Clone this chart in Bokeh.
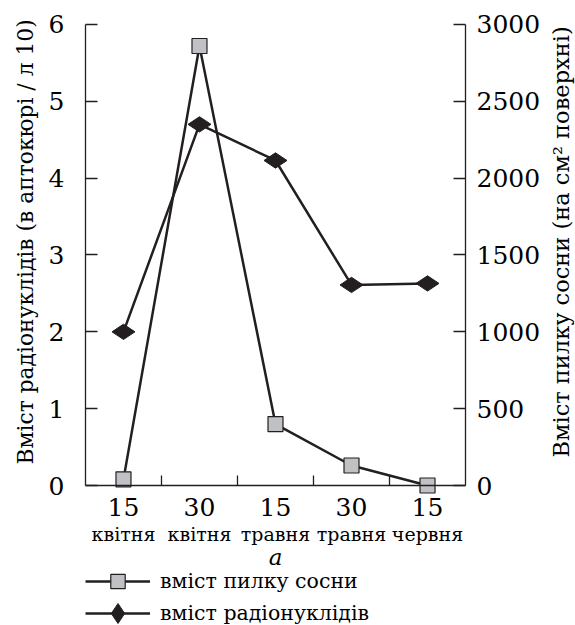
import math
from bokeh.plotting import figure
from bokeh.core.properties import value
from bokeh.models import (Range1d, LinearAxis, FixedTicker, Legend, LegendItem,
                          Label, LabelSet, ColumnDataSource)
from bokeh.embed import file_html
from bokeh.resources import INLINE

# ---- data ----
positions = [1, 2, 3, 4, 5]
day_labels = ["15", "30", "15", "30", "15"]
month_labels = ["квітня", "квітня", "травня", "травня", "червня"]
radionuclides = [2.0, 4.70, 4.23, 2.61, 2.63]        # left axis
pollen = [40, 2860, 400, 130, 0]                       # right axis
left_ticks = [0, 1, 2, 3, 4, 5, 6]
right_ticks = [0, 500, 1000, 1500, 2000, 2500, 3000]
between_ticks = [1.5, 2.5, 3.5, 4.5]

FONT = "DejaVu Serif"
INK = "#231f20"

# the frame covers the whole canvas; the plotting area is x 0.5..5.5, y 0..6
Y_LO, Y_HI = -1.822, 6.312
RATIO = 500.0  # pollen units per radionuclide unit
p = figure(width=575, height=625, output_backend="svg", toolbar_location=None,
           x_range=Range1d(-0.618, 6.947), y_range=Range1d(Y_LO, Y_HI),
           x_axis_type=None, y_axis_type=None,
           min_border_left=0, min_border_right=0,
           min_border_top=0, min_border_bottom=0)
p.extra_y_ranges = {"pollen": Range1d(Y_LO * RATIO, Y_HI * RATIO)}
p.outline_line_color = None
p.background_fill_color = "white"
p.border_fill_color = "white"


def style_axis(ax, font_size="25px"):
    ax.axis_line_color = INK
    ax.axis_line_width = 1.3
    ax.major_tick_line_color = INK
    ax.major_tick_line_width = 1.3
    ax.minor_tick_line_color = INK
    ax.minor_tick_line_width = 1.3
    ax.major_label_text_font = FONT
    ax.major_label_text_font_size = font_size
    ax.major_label_text_color = "black"


# left axis
yl = LinearAxis(ticker=FixedTicker(ticks=left_ticks, minor_ticks=[]),
                fixed_location=0.5, bounds=(0, 6))
style_axis(yl)
yl.major_tick_in = 12
yl.major_tick_out = 0
yl.major_label_standoff = 21
p.add_layout(yl, "left")

# right axis
yr = LinearAxis(y_range_name="pollen",
                ticker=FixedTicker(ticks=right_ticks, minor_ticks=[]),
                fixed_location=5.5, bounds=(0, 3000))
style_axis(yr)
yr.major_tick_in = 12
yr.major_tick_out = 0
yr.major_label_standoff = 11
p.add_layout(yr, "right")

# bottom axis: day numbers, ticks between categories
xa = LinearAxis(ticker=FixedTicker(ticks=positions, minor_ticks=between_ticks),
                major_label_overrides={x: d for x, d in zip(positions, day_labels)},
                fixed_location=0, bounds=(0.5, 5.5))
style_axis(xa)
xa.major_tick_in = 0
xa.major_tick_out = 0
xa.minor_tick_in = 10
xa.minor_tick_out = 0
xa.major_label_standoff = 12
p.add_layout(xa, "below")

# month names under the day numbers
months_src = ColumnDataSource(dict(x=positions, y=[-0.63] * len(positions),
                                   text=month_labels))
p.add_layout(LabelSet(x="x", y="y", text="text", source=months_src,
                      text_font=value(FONT), text_font_size=value("19px"),
                      text_color="black",
                      text_align="center", text_baseline="middle"))

# axis titles and panel letter
title_style = dict(text_font=FONT, text_color="black",
                   text_align="center", text_baseline="middle", angle=math.pi / 2)
p.add_layout(Label(x=-0.289, y=3.17, text="Вміст радіонуклідів (в аптокюрі / л 10)",
                   text_font_size="21.8px", **title_style))
p.add_layout(Label(x=6.75, y=3.17, text="Вміст пилку сосни (на см² поверхні)",
                   text_font_size="22.5px", **title_style))
p.add_layout(Label(x=3, y=-0.937, text="a", text_font=FONT, text_font_size="23px",
                   text_font_style="italic", text_color="black",
                   text_align="center", text_baseline="middle"))

# series
l1 = p.line(positions, pollen, y_range_name="pollen", line_color=INK, line_width=2.5)
s1 = p.scatter(positions, pollen, y_range_name="pollen", marker="square", size=15,
               fill_color="#c0c1c5", line_color=INK, line_width=1.2)
l2 = p.line(positions, radionuclides, line_color=INK, line_width=2.5)
s2 = p.scatter(positions, radionuclides, marker="diamond", size=23, angle=math.pi / 2,
               fill_color=INK, line_color=INK, line_width=1)

common = dict(orientation="vertical", glyph_width=65, label_standoff=10,
              padding=0, margin=0, label_text_font=FONT, label_text_font_size="20.5px",
              label_text_color="black", border_line_color=None,
              background_fill_alpha=0)
leg1 = Legend(items=[LegendItem(label="вміст пилку сосни", renderers=[l1, s1])],
              location=(85, 26), glyph_height=36, label_height=36, **common)
leg2 = Legend(items=[LegendItem(label="вміст радіонуклідів", renderers=[l2, s2])],
              location=(85, -13), glyph_height=50, label_height=50, **common)
p.add_layout(leg1, "center")
p.add_layout(leg2, "center")

open("out.html", "w").write(file_html(p, INLINE))
